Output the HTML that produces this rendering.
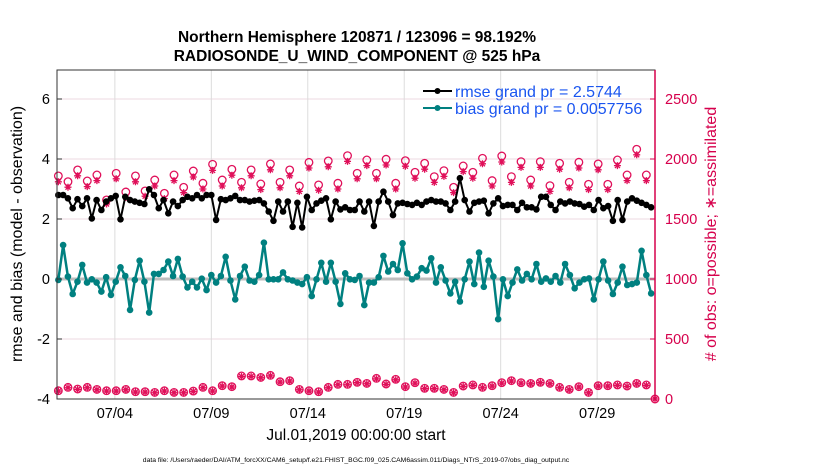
<!DOCTYPE html>
<html><head><meta charset="utf-8"><style>
body{margin:0;background:#fff;}
svg text{font-family:"Liberation Sans",sans-serif;}
</style></head><body>
<svg id="chart" width="830" height="470" viewBox="0 0 830 470" xmlns="http://www.w3.org/2000/svg">
<text x="357" y="42" text-anchor="middle" font-size="15.5" font-weight="bold">Northern Hemisphere 120871 / 123096 = 98.192%</text>
<text x="357" y="61" text-anchor="middle" font-size="15.5" font-weight="bold">RADIOSONDE_U_WIND_COMPONENT @ 525 hPa</text>
<text transform="translate(22,234) rotate(-90)" text-anchor="middle" font-size="16">rmse and bias (model - observation)</text>
<text transform="translate(716,234) rotate(-90)" text-anchor="middle" font-size="16" fill="#d6004c"># of obs: o=possible; ∗=assimilated</text>
<text x="356" y="440" text-anchor="middle" font-size="15.5">Jul.01,2019 00:00:00 start</text>
<text x="356" y="462" text-anchor="middle" font-size="6.8">data file: /Users/raeder/DAI/ATM_forcXX/CAM6_setup/f.e21.FHIST_BGC.f09_025.CAM6assim.011/Diags_NTrS_2019-07/obs_diag_output.nc</text>
<g id="plot"></g>
</svg>
<script>
const rmse=[2.80,2.80,2.69,2.36,2.66,2.43,2.69,2.02,2.63,2.30,2.58,2.69,2.77,1.99,2.74,2.63,2.58,2.54,2.50,2.99,2.80,2.36,2.63,2.19,2.58,2.43,2.63,2.74,2.69,2.80,2.69,2.80,2.80,1.97,2.66,2.63,2.69,2.77,2.63,2.63,2.58,2.61,2.63,2.52,2.25,1.94,2.58,2.25,2.58,1.74,2.54,1.72,2.74,2.30,2.52,2.61,2.69,1.99,2.58,2.32,2.39,2.30,
2.30,2.58,2.25,2.58,1.77,2.58,2.91,2.58,2.13,2.52,2.54,2.50,2.47,2.54,2.47,2.58,2.63,2.58,2.58,2.52,2.30,2.58,3.36,2.63,2.25,2.54,2.58,2.61,2.19,2.52,2.69,2.43,2.47,2.47,2.30,2.54,2.39,2.39,2.32,2.74,2.74,2.47,2.30,2.58,2.52,2.58,2.52,2.50,2.41,2.47,2.30,2.63,2.36,2.43,1.94,2.63,1.97,2.58,2.69,2.61,2.54,2.47,2.39];
const bias=[-0.03,1.13,0.08,-0.50,-0.09,0.47,-0.12,-0.01,-0.12,-0.42,0.06,-0.53,-0.09,0.39,0.10,-1.03,-0.03,0.61,-0.09,-1.12,0.17,0.17,0.30,0.58,0.10,0.67,0.08,-0.28,-0.09,-0.28,0.01,-0.37,0.13,-0.12,0.10,0.74,-0.05,-0.68,0.10,0.41,-0.05,-0.09,0.13,1.21,-0.01,-0.01,-0.01,0.22,-0.01,-0.05,-0.12,-0.17,0.06,-0.57,-0.01,0.54,-0.09,0.54,-0.09,-0.83,0.19,-0.01,
-0.03,0.10,-0.87,-0.12,-0.12,0.06,0.77,0.25,0.50,0.30,1.19,0.19,-0.01,0.08,0.36,0.28,0.69,-0.12,0.39,-0.05,-0.48,-0.09,-0.75,-0.01,0.58,-0.17,0.88,-0.26,0.61,0.08,-1.34,-0.01,-0.57,-0.12,0.32,-0.05,0.17,-0.01,0.50,-0.09,0.02,-0.09,0.10,-0.12,0.50,0.13,-0.31,-0.12,-0.01,0.02,-0.68,-0.01,0.58,-0.05,-0.50,-0.12,0.41,-0.20,-0.17,-0.12,0.94,0.13,-0.48];
const possible=[1859,1811,1909,1817,1867,1659,1881,1725,1859,1734,1825,1714,1867,1764,1900,1798,1956,1825,1914,1806,1909,1792,1959,1806,1909,1775,1972,1784,1984,1798,2028,
1881,1992,1881,1998,1798,1986,1889,1964,1853,1903,1764,1942,1889,2006,1820,2025,1853,1978,1825,1978,1778,1964,1806,1973,1789,1959,1789,1992,1867,2081,1867];
const assimilated=[1810,1765,1860,1770,1820,1625,1835,1680,1810,1690,1775,1670,1820,1720,1850,1750,1905,1775,1865,1760,1860,1745,1910,1760,1860,1730,1925,1740,1935,1750,1980,
1835,1945,1835,1950,1750,1940,1840,1915,1805,1855,1720,1895,1840,1960,1775,1975,1805,1930,1775,1930,1730,1915,1760,1925,1745,1910,1745,1945,1820,2035,1820];
const lowPossible=[69,97,83,97,80,69,69,80,61,61,55,69,55,55,66,97,69,111,103,192,192,180,197,144,153,80,69,61,97,122,122,139,130,172,125,164,103,136,89,89,80,55,108,117,97,111,136,153,136,130,139,130,97,80,103,55,111,111,117,108,130,117];
const lowAssim=[66,94,80,94,77,66,66,77,58,58,52,66,52,52,63,94,66,108,100,188,188,177,193,141,150,77,66,58,94,119,119,136,127,168,122,160,100,132,86,86,77,52,105,114,94,108,132,150,132,127,136,127,94,77,100,52,108,108,114,105,127,114];
const leftTicks=[-4,-2,0,2,4,6];
const rightTicks=[0,500,1000,1500,2000,2500];
const dateTicks=[3,8,13,18,23,28];
const dateLabels=["07/04","07/09","07/14","07/19","07/24","07/29"];

const L=57,R=655,T=70,B=399;
const xs=d=>L+d*(R-L)/31;
const yl=v=>279-v*30;
const yr=v=>B-v*0.12;
const g=document.getElementById('plot');
const NS='http://www.w3.org/2000/svg';
function mk(tag,attrs,parent){const e=document.createElementNS(NS,tag);for(const k in attrs)e.setAttribute(k,attrs[k]);(parent||g).appendChild(e);return e;}

leftTicks.forEach(v=>{const l=mk('line',{x1:L,x2:R,y1:yl(v),y2:yl(v),stroke:'#ecd8e0','stroke-width':1});

});
dateTicks.forEach(d=>{const l=mk('line',{x1:xs(d),x2:xs(d),y1:T,y2:B,stroke:'#dcdcdc','stroke-width':1});

});
const z=mk('line',{x1:L,x2:R,y1:yl(0),y2:yl(0),stroke:'#bdbdbd','stroke-width':3});



function star(x,y,parent,name){const s=mk('path',{d:`M${x-3.5} ${y}H${x+3.5}M${x} ${y-3.5}V${y+3.5}M${x-2.5} ${y-2.5}L${x+2.5} ${y+2.5}M${x-2.5} ${y+2.5}L${x+2.5} ${y-2.5}`,stroke:'#e0105a','stroke-width':1.3,fill:'none'},parent);

}
function circ(x,y,name){const c=mk('circle',{cx:x,cy:y,r:3.8,stroke:'#e0105a','stroke-width':1.3,fill:'none'});

}
possible.forEach((v,i)=>{circ(xs(0.07+i*0.4997),yr(v),'possible-obs-marker');});
assimilated.forEach((v,i)=>{star(xs(0.07+i*0.4997),yr(v),g,'assimilated-obs-marker');});
lowPossible.forEach((v,i)=>{circ(xs(0.07+i*0.4997),yr(v),'possible-obs-marker-low');});
lowAssim.forEach((v,i)=>{star(xs(0.07+i*0.4997),yr(v),g,'assimilated-obs-marker-low');});
circ(xs(31),yr(0),'possible-obs-marker-end');
star(xs(31),yr(0),g,'assimilated-obs-marker-end');

function series(arr,color,name,w){
 const step=(30.8-0.07)/(arr.length-1);
 const pts=arr.map((v,i)=>[xs(0.07+i*step),yl(v)]);
 const p=mk('polyline',{points:pts.map(p=>p.join(',')).join(' '),fill:'none',stroke:color,'stroke-width':w,'stroke-linejoin':'round'});
 
 
 pts.forEach(q=>{const c=mk('circle',{cx:q[0],cy:q[1],r:3.3,fill:color});
 
 });
}
series(bias,'#008080','bias',2.5);
series(rmse,'#000','rmse',2);

const ax=mk('rect',{x:L,y:T,width:R-L,height:B-T,fill:'none',stroke:'#333','stroke-width':1});


const ra=mk('line',{x1:R,x2:R,y1:T,y2:B,stroke:'#d6004c','stroke-width':1.5});


leftTicks.forEach(v=>{const t=mk('text',{x:L-7,y:yl(v)+5,'text-anchor':'end','font-size':14.5});t.textContent=v;


const k=mk('line',{x1:L,x2:L+5,y1:yl(v),y2:yl(v),stroke:'#333'});

});
rightTicks.forEach(v=>{const t=mk('text',{x:R+10,y:yr(v)+5,'font-size':14.5,fill:'#d6004c'});t.textContent=v;


const k=mk('line',{x1:R-5,x2:R,y1:yr(v),y2:yr(v),stroke:'#d6004c'});

});
dateTicks.forEach((d,i)=>{const t=mk('text',{x:xs(d),y:418,'text-anchor':'middle','font-size':14.5});t.textContent=dateLabels[i];

});

const lg=mk('g',{});


[['rmse grand pr = 2.5744','#000',91],['bias grand pr = 0.0057756','#008080',108]].forEach(e=>{
 const l=mk('line',{x1:423,x2:452,y1:e[2],y2:e[2],stroke:e[1],'stroke-width':2},lg);
 
 
 const c=mk('circle',{cx:437.5,cy:e[2],r:3,fill:e[1]},lg);
 
 
 const t=mk('text',{x:455,y:e[2]+6,'font-size':16,fill:'#1a55f0'},lg);t.textContent=e[0];
 
 
});
</script>
</body></html>
